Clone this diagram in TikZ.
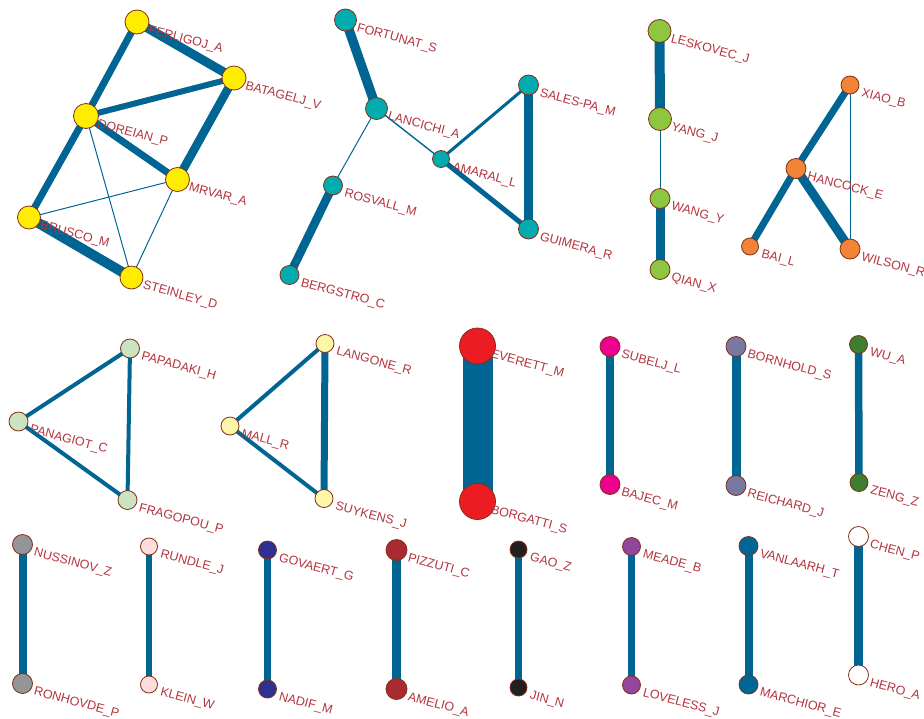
\documentclass[tikz,border=0pt]{standalone}
\usepackage{fontspec}
\setmainfont{Liberation Sans}
\usepackage{tikz}
\usetikzlibrary{backgrounds}
\usepackage{xcolor}
\definecolor{linkblue}{RGB}{0,101,147}
\definecolor{rim}{RGB}{130,48,24}
\definecolor{namered}{RGB}{180,52,62}
\definecolor{cyellow}{RGB}{255,237,0}
\definecolor{cteal}{RGB}{0,172,176}
\definecolor{cgreen}{RGB}{141,198,63}
\definecolor{corange}{RGB}{242,132,56}
\definecolor{cmint}{RGB}{202,227,192}
\definecolor{ccream}{RGB}{255,246,168}
\definecolor{cred}{RGB}{237,28,36}
\definecolor{cmagenta}{RGB}{236,0,140}
\definecolor{cslate}{RGB}{120,120,160}
\definecolor{cforest}{RGB}{59,127,51}
\definecolor{cgray}{RGB}{147,149,152}
\definecolor{cpink}{RGB}{253,221,221}
\definecolor{cnavy}{RGB}{46,49,146}
\definecolor{cbrick}{RGB}{170,42,50}
\definecolor{cblack}{RGB}{35,31,32}
\definecolor{cpurple}{RGB}{146,71,155}
\definecolor{cblue}{RGB}{0,101,151}

\begin{document}
\begin{tikzpicture}[
  x=1pt, y=-1pt,
  vx/.style={circle, draw=rim, line width=0.8pt, inner sep=0pt, minimum size=#1pt},
  lbl/.style={font=\fontsize{12.5}{14}\selectfont, text=namered, inner sep=0pt,
    anchor=north west, shift={(13pt,-2.5pt)}, rotate=-15},
  lnk/.style={draw=linkblue, line width=#1pt}
]
\useasboundingbox (0,0) rectangle (924,718);

% top row
\node[vx=24, fill=cyellow] (ferligoj) at (137,22) {}; \node[lbl] (ferligoj-t) at (ferligoj.center) {FERLIGOJ\_A};
\node[vx=24, fill=cyellow] (batagelj) at (234,78) {}; \node[lbl] (batagelj-t) at (batagelj.center) {BATAGELJ\_V};
\node[vx=25, fill=cyellow] (doreian) at (86,116) {}; \node[lbl] (doreian-t) at (doreian.center) {DOREIAN\_P};
\node[vx=24, fill=cyellow] (mrvar) at (177.5,179.5) {}; \node[lbl] (mrvar-t) at (mrvar.center) {MRVAR\_A};
\node[vx=23, fill=cyellow] (brusco) at (29,217.5) {}; \node[lbl] (brusco-t) at (brusco.center) {BRUSCO\_M};
\node[vx=23, fill=cyellow] (steinley) at (131.5,277.5) {}; \node[lbl] (steinley-t) at (steinley.center) {STEINLEY\_D};

\node[vx=22, fill=cteal] (fortunat) at (345.5,20) {}; \node[lbl] (fortunat-t) at (fortunat.center) {FORTUNAT\_S};
\node[vx=22, fill=cteal] (lancichi) at (376.5,108.5) {}; \node[lbl] (lancichi-t) at (lancichi.center) {LANCICHI\_A};
\node[vx=17, fill=cteal] (amaral) at (441,159) {}; \node[lbl] (amaral-t) at (amaral.center) {AMARAL\_L};
\node[vx=20, fill=cteal] (sales) at (528.5,85) {}; \node[lbl] (sales-t) at (sales.center) {SALES-PA\_M};
\node[vx=20, fill=cteal] (guimera) at (528.5,229) {}; \node[lbl] (guimera-t) at (guimera.center) {GUIMERA\_R};
\node[vx=19, fill=cteal] (rosvall) at (333,185.5) {}; \node[lbl] (rosvall-t) at (rosvall.center) {ROSVALL\_M};
\node[vx=19, fill=cteal] (bergstro) at (289.5,275) {}; \node[lbl] (bergstro-t) at (bergstro.center) {BERGSTRO\_C};

\node[vx=23, fill=cgreen] (leskovec) at (659.5,31) {}; \node[lbl] (leskovec-t) at (leskovec.center) {LESKOVEC\_J};
\node[vx=23, fill=cgreen] (yang) at (660,119) {}; \node[lbl] (yang-t) at (yang.center) {YANG\_J};
\node[vx=20, fill=cgreen] (wang) at (660,198.5) {}; \node[lbl] (wang-t) at (wang.center) {WANG\_Y};
\node[vx=20, fill=cgreen] (qian) at (660,269.5) {}; \node[lbl] (qian-t) at (qian.center) {QIAN\_X};

\node[vx=18, fill=corange] (xiao) at (850,85) {}; \node[lbl] (xiao-t) at (xiao.center) {XIAO\_B};
\node[vx=20, fill=corange] (hancock) at (796,168.5) {}; \node[lbl] (hancock-t) at (hancock.center) {HANCOCK\_E};
\node[vx=17, fill=corange] (bai) at (750,246.5) {}; \node[lbl] (bai-t) at (bai.center) {BAI\_L};
\node[vx=20, fill=corange] (wilson) at (850,249) {}; \node[lbl] (wilson-t) at (wilson.center) {WILSON\_R};

% middle row
\node[vx=19, fill=cmint] (papadaki) at (130,348.5) {}; \node[lbl] (papadaki-t) at (papadaki.center) {PAPADAKI\_H};
\node[vx=19, fill=cmint] (panagiot) at (18.5,421.5) {}; \node[lbl] (panagiot-t) at (panagiot.center) {PANAGIOT\_C};
\node[vx=19, fill=cmint] (fragopou) at (127.5,500) {}; \node[lbl] (fragopou-t) at (fragopou.center) {FRAGOPOU\_P};

\node[vx=18, fill=ccream] (langone) at (325,343.5) {}; \node[lbl] (langone-t) at (langone.center) {LANGONE\_R};
\node[vx=18, fill=ccream] (mall) at (230,426) {}; \node[lbl] (mall-t) at (mall.center) {MALL\_R};
\node[vx=18, fill=ccream] (suykens) at (324,498.5) {}; \node[lbl] (suykens-t) at (suykens.center) {SUYKENS\_J};

\node[vx=36, fill=cred] (everett) at (477.5,346) {};
\node[vx=36, fill=cred] (borgatti) at (477.5,501.5) {};
\node[vx=20, fill=cmagenta] (subelj) at (610,346.5) {}; \node[lbl] (subelj-t) at (subelj.center) {SUBELJ\_L};
\node[vx=20, fill=cmagenta] (bajec) at (610,484.5) {}; \node[lbl] (bajec-t) at (bajec.center) {BAJEC\_M};
\node[vx=20, fill=cslate] (bornhold) at (736,346.5) {}; \node[lbl] (bornhold-t) at (bornhold.center) {BORNHOLD\_S};
\node[vx=20, fill=cslate] (reichard) at (736,485.5) {}; \node[lbl] (reichard-t) at (reichard.center) {REICHARD\_J};
\node[vx=18, fill=cforest] (wu) at (858.5,344.5) {}; \node[lbl] (wu-t) at (wu.center) {WU\_A};
\node[vx=18, fill=cforest] (zeng) at (859,482.5) {}; \node[lbl] (zeng-t) at (zeng.center) {ZENG\_Z};

% bottom row
\node[vx=20, fill=cgray] (nussinov) at (22.5,544.5) {}; \node[lbl] (nussinov-t) at (nussinov.center) {NUSSINOV\_Z};
\node[vx=20, fill=cgray] (ronhovde) at (22.5,683.5) {}; \node[lbl] (ronhovde-t) at (ronhovde.center) {RONHOVDE\_P};
\node[vx=17, fill=cpink] (rundle) at (149,546.5) {}; \node[lbl] (rundle-t) at (rundle.center) {RUNDLE\_J};
\node[vx=17, fill=cpink] (klein) at (149,684.5) {}; \node[lbl] (klein-t) at (klein.center) {KLEIN\_W};
\node[vx=18, fill=cnavy] (govaert) at (267.5,550) {}; \node[lbl] (govaert-t) at (govaert.center) {GOVAERT\_G};
\node[vx=18, fill=cnavy] (nadif) at (267.5,689) {}; \node[lbl] (nadif-t) at (nadif.center) {NADIF\_M};
\node[vx=21, fill=cbrick] (pizzuti) at (396.5,550) {}; \node[lbl] (pizzuti-t) at (pizzuti.center) {PIZZUTI\_C};
\node[vx=21, fill=cbrick] (amelio) at (396.5,689) {}; \node[lbl] (amelio-t) at (amelio.center) {AMELIO\_A};
\node[vx=17, fill=cblack] (gao) at (518.5,549.5) {}; \node[lbl] (gao-t) at (gao.center) {GAO\_Z};
\node[vx=17, fill=cblack] (jin) at (518.5,687.5) {}; \node[lbl] (jin-t) at (jin.center) {JIN\_N};
\node[vx=18, fill=cpurple] (meade) at (631.5,546.5) {}; \node[lbl] (meade-t) at (meade.center) {MEADE\_B};
\node[vx=18, fill=cpurple] (loveless) at (631.5,685) {}; \node[lbl] (loveless-t) at (loveless.center) {LOVELESS\_J};
\node[vx=19, fill=cblue] (vanlaarh) at (748.5,546) {}; \node[lbl] (vanlaarh-t) at (vanlaarh.center) {VANLAARH\_T};
\node[vx=19, fill=cblue] (marchior) at (748.5,684.5) {}; \node[lbl] (marchior-t) at (marchior.center) {MARCHIOR\_E};
\node[vx=20, fill=white] (chen) at (858.5,536.5) {}; \node[lbl] (chen-t) at (chen.center) {CHEN\_P};
\node[vx=20, fill=white] (hero) at (858.5,675) {}; \node[lbl] (hero-t) at (hero.center) {HERO\_A};

% labels drawn over the big red circles
\node[lbl, shift={(2pt,0pt)}] (everett-t) at (everett.center) {EVERETT\_M};
\node[lbl, shift={(2pt,0pt)}] (borgatti-t) at (borgatti.center) {BORGATTI\_S};

\begin{scope}[on background layer]
\draw[lnk=9] (ferligoj.center) -- (batagelj.center);
\draw[lnk=7] (ferligoj.center) -- (doreian.center);
\draw[lnk=6] (doreian.center) -- (batagelj.center);
\draw[lnk=7] (doreian.center) -- (mrvar.center);
\draw[lnk=8.5] (batagelj.center) -- (mrvar.center);
\draw[lnk=7] (doreian.center) -- (brusco.center);
\draw[lnk=10] (brusco.center) -- (steinley.center);
\draw[lnk=1] (brusco.center) -- (mrvar.center);
\draw[lnk=1] (doreian.center) -- (steinley.center);
\draw[lnk=1] (mrvar.center) -- (steinley.center);

\draw[lnk=9.5] (fortunat.center) -- (lancichi.center);
\draw[lnk=1] (lancichi.center) -- (rosvall.center);
\draw[lnk=1.4] (lancichi.center) -- (amaral.center);
\draw[lnk=3] (amaral.center) -- (sales.center);
\draw[lnk=5] (amaral.center) -- (guimera.center);
\draw[lnk=9] (sales.center) -- (guimera.center);
\draw[lnk=8.5] (rosvall.center) -- (bergstro.center);

\draw[lnk=10] (leskovec.center) -- (yang.center);
\draw[lnk=1] (yang.center) -- (wang.center);
\draw[lnk=9] (wang.center) -- (qian.center);

\draw[lnk=7] (xiao.center) -- (hancock.center);
\draw[lnk=7] (hancock.center) -- (bai.center);
\draw[lnk=9] (hancock.center) -- (wilson.center);
\draw[lnk=1] (xiao.center) -- (wilson.center);

\draw[lnk=4] (papadaki.center) -- (panagiot.center);
\draw[lnk=4] (panagiot.center) -- (fragopou.center);
\draw[lnk=4] (papadaki.center) -- (fragopou.center);
\draw[lnk=4] (langone.center) -- (mall.center);
\draw[lnk=4] (mall.center) -- (suykens.center);
\draw[lnk=7] (langone.center) -- (suykens.center);

\draw[lnk=30] (everett.center) -- (borgatti.center);
\draw[lnk=8.5] (subelj.center) -- (bajec.center);
\draw[lnk=9] (bornhold.center) -- (reichard.center);
\draw[lnk=7.5] (wu.center) -- (zeng.center);

\draw[lnk=8] (nussinov.center) -- (ronhovde.center);
\draw[lnk=6.5] (rundle.center) -- (klein.center);
\draw[lnk=7] (govaert.center) -- (nadif.center);
\draw[lnk=9] (pizzuti.center) -- (amelio.center);
\draw[lnk=6.5] (gao.center) -- (jin.center);
\draw[lnk=7] (meade.center) -- (loveless.center);
\draw[lnk=8] (vanlaarh.center) -- (marchior.center);
\draw[lnk=9] (chen.center) -- (hero.center);
\end{scope}
\end{tikzpicture}
\end{document}
